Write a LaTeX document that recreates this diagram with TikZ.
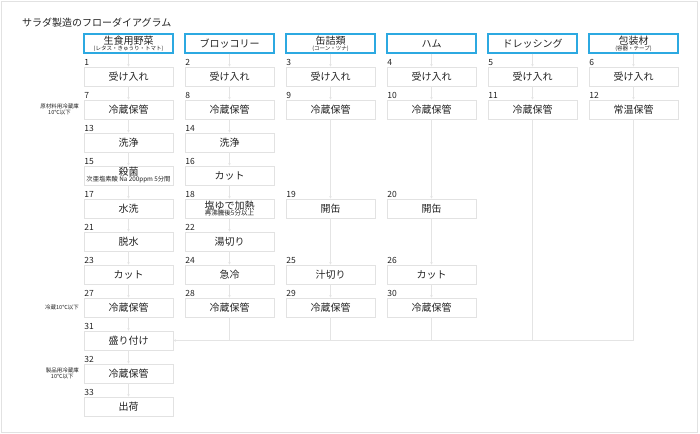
\documentclass[tikz,border=0pt]{standalone}
\usepackage{fontspec}
\setmainfont{Noto Sans CJK JP}
\usetikzlibrary{arrows.meta}
\definecolor{headblue}{HTML}{2CA9E1}
\definecolor{boxgray}{HTML}{E2E2E2}
\definecolor{linegray}{HTML}{E4E4E4}
\definecolor{ink}{HTML}{222222}
\begin{document}
\begin{tikzpicture}[x=1pt,y=-1pt,
  head/.style={draw=headblue, line width=1.2pt, minimum width=89pt, minimum height=19pt,
    inner sep=0pt, align=center, text=ink, font=\fontsize{10}{11}\selectfont},
  stepbox/.style={draw=boxgray, line width=0.8pt, minimum width=89pt, minimum height=19pt,
    inner sep=0pt, align=center, text=ink, font=\fontsize{10}{11}\selectfont},
  num/.style={anchor=south west, inner sep=0.6pt, text=ink, font=\fontsize{8.5}{9}\selectfont},
  note/.style={anchor=east, align=center, inner sep=0pt, text=ink, font=\fontsize{5.5}{6.5}\selectfont},
  flow/.style={draw=linegray, line width=0.7pt, -{Stealth[length=2.5pt,width=2.5pt]}},
  feed/.style={draw=linegray, line width=0.7pt}]

% canvas:
\useasboundingbox (0,0) rectangle (700,433);
\draw[boxgray, line width=0.8pt] (1,1) rectangle (697,432);

% grid of the steps:
\pgfmathsetmacro\xo{128.5};
\pgfmathsetmacro\yo{76.5};
\pgfmathsetmacro\dx{101};
\pgfmathsetmacro\dy{33};
\pgfmathsetmacro\yh{43.5};

\node[anchor=west, inner sep=0pt, text=ink, font=\fontsize{10}{11}\selectfont] (title) at (22,23) {サラダ製造のフローダイアグラム};

% raw materials:
\node[head] (h1) at ({\xo},\yh) {生食用野菜\\[-5pt]{\fontsize{5.5}{6}\selectfont (レタス・きゅうり・トマト)}};
\node[head] (h2) at ({\xo+\dx},\yh) {ブロッコリー};
\node[head] (h3) at ({\xo+2*\dx},\yh) {缶詰類\\[-5pt]{\fontsize{5.5}{6}\selectfont (コーン・ツナ)}};
\node[head] (h4) at ({\xo+3*\dx},\yh) {ハム};
\node[head] (h5) at ({\xo+4*\dx},\yh) {ドレッシング};
\node[head] (h6) at ({\xo+5*\dx},\yh) {包装材\\[-5pt]{\fontsize{5.5}{6}\selectfont (容器・テープ)}};

% steps: number/column/row/text
\foreach \n/\c/\r/\t in {1/1/1/受け入れ, 7/1/2/冷蔵保管, 13/1/3/洗浄, 17/1/5/水洗,
  21/1/6/脱水, 23/1/7/カット, 27/1/8/冷蔵保管, 31/1/9/盛り付け, 32/1/10/冷蔵保管, 33/1/11/出荷,
  2/2/1/受け入れ, 8/2/2/冷蔵保管, 14/2/3/洗浄, 16/2/4/カット, 22/2/6/湯切り, 24/2/7/急冷, 28/2/8/冷蔵保管,
  3/3/1/受け入れ, 9/3/2/冷蔵保管, 19/3/5/開缶, 25/3/7/汁切り, 29/3/8/冷蔵保管,
  4/4/1/受け入れ, 10/4/2/冷蔵保管, 20/4/5/開缶, 26/4/7/カット, 30/4/8/冷蔵保管,
  5/5/1/受け入れ, 11/5/2/冷蔵保管,
  6/6/1/受け入れ, 12/6/2/常温保管}{
  \node[stepbox] (n\n) at ({\xo+\dx*(\c-1)},{\yo+\dy*(\r-1)}) {\t};
  \node[num] (l\n) at (n\n.north west) {\n};
}
\node[stepbox] (n15) at ({\xo},{\yo+3*\dy}) {殺菌\\[-5pt]{\fontsize{6.3}{6.5}\selectfont 次亜塩素酸 Na 200ppm 5分間}};
\node[num] (l15) at (n15.north west) {15};
\node[stepbox] (n18) at ({\xo+\dx},{\yo+4*\dy}) {塩ゆで加熱\\[-5pt]{\fontsize{6.5}{6.5}\selectfont 再沸騰後5分以上}};
\node[num] (l18) at (n18.north west) {18};

% storage notes:
\node[note] (t7) at (79,{\yo+\dy}) {原材料用冷蔵庫\\10℃以下};
\node[note] (t27) at (79,{\yo+7*\dy}) {冷蔵10℃以下};
\node[note] (t32) at (79,{\yo+9*\dy}) {製品用冷蔵庫\\10℃以下};

% flow:
\foreach \c in {1,...,6}
  \draw[flow] (h\c) -- (n\c);
\foreach \a/\b in {1/7, 7/13, 13/15, 15/17, 17/21, 21/23, 23/27, 27/31, 31/32, 32/33,
  2/8, 8/14, 14/16, 16/18, 18/22, 22/24, 24/28,
  3/9, 9/19, 19/25, 25/29, 4/10, 10/20, 20/26, 26/30, 5/11, 6/12}
  \draw[flow] (n\a) -- (n\b);
\foreach \n in {28,29,30,11}
  \draw[feed] (n\n) -- (n\n |- n31);
\draw[flow] (n12) |- (n31);

\end{tikzpicture}
\end{document}
